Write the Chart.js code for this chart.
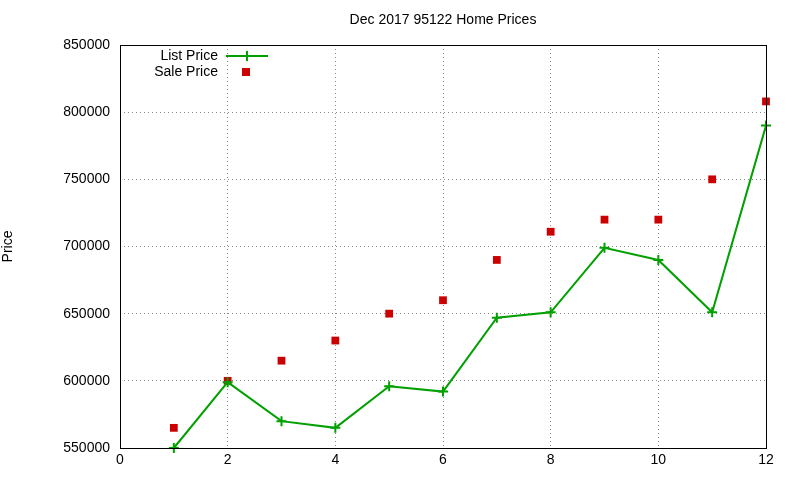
<!DOCTYPE html>
<html><head><meta charset="utf-8">
<script src="https://cdn.jsdelivr.net/npm/chart.js@4/dist/chart.umd.min.js"></script>
<style>html,body{margin:0;padding:0;background:#fff}#w{width:800px;height:480px}</style>
</head><body><div id="w"><canvas id="c"></canvas></div>
<script>
const months=[1,2,3,4,5,6,7,8,9,10,11,12];
const listPrice=[550000,599000,570000,565000,596000,592000,647000,651000,699000,690000,651000,790000];
const salePrice=[565000,600000,615000,630000,650000,660000,690000,711000,720000,720000,750000,808000];
const titleText='Dec 2017 95122 Home Prices';
const yLabel='Price';
const FONT='"Liberation Sans", Arial, sans-serif';
const extras={id:'extras',
 afterDraw(ch){const c=ch.ctx,a=ch.chartArea;c.save();
  c.strokeStyle='#000';c.lineWidth=1;c.strokeRect(a.left+0.5,a.top+0.5,a.right-a.left,a.bottom-a.top);
  c.fillStyle='#000';c.font='14px '+FONT;c.textAlign='center';c.textBaseline='middle';
  c.fillText(titleText,(a.left+a.right)/2,20);
  c.textAlign='right';
  ch.data.datasets.forEach((d,i)=>{const y=56+i*16;c.fillStyle='#000';c.fillText(d.label,218,y);
   if(d.showLine!==false){c.strokeStyle=d.borderColor;c.lineWidth=2;c.beginPath();c.moveTo(226,y);c.lineTo(268,y);c.stroke();
    c.beginPath();c.moveTo(247,y-5);c.lineTo(247,y+5);c.moveTo(242,y);c.lineTo(252,y);c.stroke();}
   else{c.fillStyle=d.backgroundColor;c.fillRect(242,y-4,8,8);}
  });
  c.restore();}};
new Chart(document.getElementById('c'),{type:'line',
 data:{datasets:[
  {label:'List Price',data:months.map((m,i)=>({x:m,y:listPrice[i]})),borderColor:'#00a000',backgroundColor:'#00a000',borderWidth:2,pointStyle:'cross',pointRadius:5,pointBorderWidth:2,tension:0,clip:false},
  {label:'Sale Price',data:months.map((m,i)=>({x:m,y:salePrice[i]})),showLine:false,borderColor:'#cc0000',backgroundColor:'#cc0000',pointStyle:'rect',pointRadius:5.5,pointBorderWidth:0,clip:false}
 ]},
 options:{responsive:true,maintainAspectRatio:false,animation:false,
  layout:{padding:{top:45,right:34,left:0,bottom:0}},
  plugins:{legend:{display:false},title:{display:false},tooltip:{enabled:false}},
  scales:{
   x:{type:'linear',min:0,max:12,ticks:{stepSize:2,color:'#000',font:{size:14,family:FONT},padding:4},
      grid:{color:'#888',tickLength:0},border:{display:false,dash:[1,3]},afterFit(s){s.height=32;}},
   y:{min:550000,max:850000,ticks:{stepSize:50000,color:'#000',font:{size:14,family:FONT},padding:10,callback:v=>String(v)},
      grid:{color:'#888',tickLength:0},border:{display:false,dash:[1,3]},
      title:{display:true,text:yLabel,color:'#000',font:{size:14,family:FONT},padding:{top:0,bottom:0}},
      afterFit(s){s.width=120;}}
  }},
 plugins:[extras]});
</script></body></html>
